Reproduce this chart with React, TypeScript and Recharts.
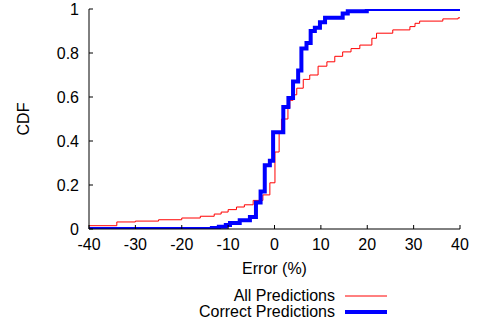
import { LineChart, Line, XAxis, YAxis } from 'recharts';

const xTicks = [-40, -30, -20, -10, 0, 10, 20, 30, 40];
const yTicks = [0, 0.2, 0.4, 0.6, 0.8, 1];

// error (%) where each step starts, and the cdf value after it
const allErr = [-40, -34, -30, -25, -20, -16, -13, -11.5, -10, -8.2, -6.5, -4.6, -2.5, -1, 0.1, 1, 1.5, 2.9, 3.3, 4.0, 4.8, 6.2, 7.6, 9.4, 11.3, 13, 14.7, 16.5, 18.4, 21, 22, 25.5, 29.2, 30.3, 31.3, 36.3, 39.6, 40];
const allCdf = [0.015, 0.032, 0.036, 0.042, 0.05, 0.058, 0.068, 0.077, 0.088, 0.1, 0.11, 0.13, 0.155, 0.21, 0.35, 0.44, 0.5, 0.55, 0.585, 0.61, 0.64, 0.68, 0.7, 0.74, 0.76, 0.785, 0.805, 0.82, 0.836, 0.867, 0.89, 0.905, 0.92, 0.935, 0.945, 0.955, 0.96, 0.96];

const correctErr = [-40, -13.5, -12, -10.5, -9.6, -7.5, -5.3, -4, -3, -2.1, -1, -0.3, 1.9, 3.0, 4.0, 5.1, 5.8, 6.9, 7.8, 8.7, 9.8, 10.9, 14.7, 15.8, 19.9, 40];
const correctCdf = [0, 0.005, 0.01, 0.018, 0.027, 0.04, 0.055, 0.12, 0.17, 0.29, 0.31, 0.44, 0.555, 0.595, 0.67, 0.72, 0.82, 0.845, 0.9, 0.915, 0.94, 0.96, 0.98, 0.99, 1, 1];

const allData = allErr.map((x, i) => ({ x, y: allCdf[i] }));
const correctData = correctErr.map((x, i) => ({ x, y: correctCdf[i] }));

const font = '"Liberation Sans", Arial, Helvetica, sans-serif';
const tickStyle = { fontSize: 16, fill: '#000', fontFamily: font };

const legendItems = [
  { name: 'All Predictions', color: '#ff0000', width: 1 },
  { name: 'Correct Predictions', color: '#0000ff', width: 4 },
];

function LegendBox() {
  return (
    <div style={{ position: 'absolute', left: 0, top: 288, fontFamily: font, fontSize: 16, lineHeight: '16px', color: '#000' }}>
      {legendItems.map((it) => (
        <div key={it.name} style={{ display: 'flex', alignItems: 'center', height: 16 }}>
          <div style={{ width: 335, textAlign: 'right', whiteSpace: 'nowrap' }}>{it.name}</div>
          <svg width={52} height={16} style={{ display: 'block' }}>
            <line x1={10} x2={52} y1={8} y2={8} stroke={it.color} strokeWidth={it.width} />
          </svg>
        </div>
      ))}
    </div>
  );
}

export default function App() {
  return (
    <div style={{ position: 'absolute', left: 0, top: 0, width: 479, height: 323, background: '#fff' }}>
      <LineChart width={479} height={323} margin={{ top: 9, right: 19, bottom: 49, left: 0 }}>
        <XAxis
          xAxisId={0}
          type="number"
          dataKey="x"
          domain={[-40, 40]}
          ticks={xTicks}
          allowDataOverflow
          height={45}
          tickSize={-4}
          tickMargin={14}
          tick={tickStyle}
          stroke="#000"
          label={{ value: 'Error (%)', position: 'insideBottom', offset: 0, style: tickStyle }}
        />
        <XAxis
          xAxisId="top"
          orientation="top"
          type="number"
          domain={[-40, 40]}
          ticks={xTicks}
          height={0}
          tickSize={-4}
          tick={false}
          stroke="#000"
        />
        <YAxis
          yAxisId={0}
          type="number"
          domain={[0, 1]}
          ticks={yTicks}
          allowDataOverflow
          width={89}
          tickSize={-4}
          tickMargin={14}
          tick={tickStyle}
          stroke="#000"
          label={{
            content: () => (
              <text x={23} y={119} transform="rotate(-90 23 119)" textAnchor="middle" dominantBaseline="central" style={tickStyle}>
                CDF
              </text>
            ),
          }}
        />
        <YAxis
          yAxisId="right"
          orientation="right"
          type="number"
          domain={[0, 1]}
          ticks={yTicks}
          width={0}
          tickSize={-4}
          tick={false}
          stroke="#000"
        />
        <Line
          data={allData}
          dataKey="y"
          type="stepAfter"
          stroke="#ff0000"
          strokeWidth={1}
          dot={false}
          isAnimationActive={false}
        />
        <Line
          data={correctData}
          dataKey="y"
          type="stepAfter"
          stroke="#0000ff"
          strokeWidth={4}
          dot={false}
          isAnimationActive={false}
        />
      </LineChart>
      <LegendBox />
    </div>
  );
}
